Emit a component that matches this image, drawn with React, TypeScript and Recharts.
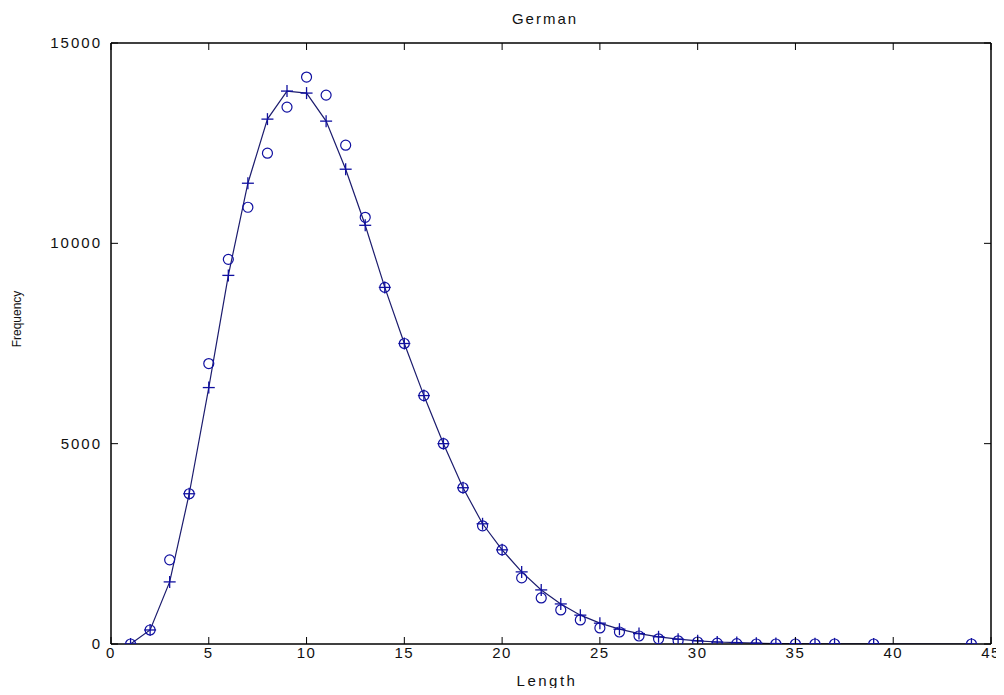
import React from 'react';
import { ComposedChart, Line, Scatter, XAxis, YAxis } from 'recharts';

const lengths = [1,2,3,4,5,6,7,8,9,10,11,12,13,14,15,16,17,18,19,20,21,22,23,24,25,26,27,28,29,30,31,32,33,34,35,36,37,39,44];
const observed = [0,350,2100,3750,7000,9600,10900,12250,13400,14150,13700,12450,10650,8900,7500,6200,5000,3900,2950,2350,1650,1150,850,600,400,300,200,130,80,50,20,10,0,0,0,0,0,0,0];
const fitted = [0,350,1550,3750,6400,9200,11500,13100,13800,13750,13050,11850,10450,8900,7500,6200,5000,3900,3000,2350,1800,1350,1000,720,520,370,260,180,120,80,50,35,20,12,8,5,3,1,0];
const xTicks = [0,5,10,15,20,25,30,35,40,45];
const yTicks = [0,5000,10000,15000];

const obsData = lengths.map((x, i) => ({ x, y: observed[i] }));
const fitData = lengths.map((x, i) => ({ x, y: fitted[i] }));

const FONT = '"Liberation Sans", Arial, Helvetica, sans-serif';
const AXIS = '#000';
const MARK = '#1010a0';
const LINE = '#1c1c6e';

const W = 996, H = 680;
// plot box in svg coordinates
const L = 103, R = 983, T = 35, B = 636;

const BottomTick = (p: any) => (
  <g>
    <line x1={p.x} y1={B} x2={p.x} y2={B - 7} stroke={AXIS} strokeWidth={1} />
    <text x={p.x} y={B + 14} textAnchor="middle" fontFamily={FONT} fontSize={15} letterSpacing={1.5} fill="#111">{p.payload.value}</text>
  </g>
);
const TopTick = (p: any) => (
  <line x1={p.x} y1={T} x2={p.x} y2={T + 7} stroke={AXIS} strokeWidth={1} />
);
const LeftTick = (p: any) => (
  <g>
    <line x1={L} y1={p.y} x2={L + 7} y2={p.y} stroke={AXIS} strokeWidth={1} />
    <text x={L - 9} y={p.y + 5} textAnchor="end" fontFamily={FONT} fontSize={15} letterSpacing={2} fill="#111">{p.payload.value}</text>
  </g>
);
const RightTick = (p: any) => (
  <line x1={R} y1={p.y} x2={R - 7} y2={p.y} stroke={AXIS} strokeWidth={1} />
);

const PlusDot = (p: any) => {
  const { cx, cy } = p;
  if (cx == null || cy == null) return null;
  return (
    <g>
      <line x1={cx - 6} y1={cy} x2={cx + 6} y2={cy} stroke={MARK} strokeWidth={1.3} />
      <line x1={cx} y1={cy - 6} x2={cx} y2={cy + 6} stroke={MARK} strokeWidth={1.3} />
    </g>
  );
};
const CircleShape = (p: any) => {
  const { cx, cy } = p;
  if (cx == null || cy == null) return null;
  return <circle cx={cx} cy={cy} r={5} fill="none" stroke={MARK} strokeWidth={1.2} />;
};

export default function App() {
  return (
    <div style={{ position: 'relative', width: W, height: H, background: '#fff' }}>
      <ComposedChart width={W} height={H} margin={{ top: T - 1, right: W - R - 1, bottom: 0, left: 0 }}>
        <XAxis xAxisId="b" type="number" dataKey="x" domain={[0, 45]} ticks={xTicks} orientation="bottom" height={H - B}
          tickLine={false} tick={<BottomTick />} axisLine={{ stroke: AXIS, strokeWidth: 1.5 }} allowDataOverflow />
        <XAxis xAxisId="t" type="number" dataKey="x" domain={[0, 45]} ticks={xTicks} orientation="top" height={1}
          tickLine={false} tick={<TopTick />} axisLine={{ stroke: AXIS, strokeWidth: 1.5 }} allowDataOverflow />
        <YAxis yAxisId="l" type="number" domain={[0, 15000]} ticks={yTicks} orientation="left" width={L}
          tickLine={false} tick={<LeftTick />} axisLine={{ stroke: AXIS, strokeWidth: 1.5 }} allowDataOverflow />
        <YAxis yAxisId="r" type="number" domain={[0, 15000]} ticks={yTicks} orientation="right" width={1}
          tickLine={false} tick={<RightTick />} axisLine={{ stroke: AXIS, strokeWidth: 1.5 }} allowDataOverflow />
        <Line xAxisId="b" yAxisId="l" data={fitData} dataKey="y" type="linear" stroke={LINE} strokeWidth={1.2}
          dot={<PlusDot />} activeDot={false} isAnimationActive={false} />
        <Scatter xAxisId="b" yAxisId="l" data={obsData} dataKey="y" shape={<CircleShape />} isAnimationActive={false} />
        <Line xAxisId="t" yAxisId="r" data={fitData} dataKey="y" stroke="none" dot={false} activeDot={false} isAnimationActive={false} />
      </ComposedChart>
      <div style={{ position: 'absolute', left: 437, top: 2, width: 200, textAlign: 'center', fontFamily: FONT, fontSize: 15, letterSpacing: 2, color: '#111' }}>German</div>
      <div style={{ position: 'absolute', left: 439, top: 664, width: 200, textAlign: 'center', fontFamily: FONT, fontSize: 15, letterSpacing: 2.5, color: '#111' }}>Length</div>
      <div style={{ position: 'absolute', left: -91, top: 304, width: 200, textAlign: 'center', fontFamily: FONT, fontSize: 12, color: '#111', transform: 'rotate(-90deg)' }}>Frequency</div>
    </div>
  );
}
